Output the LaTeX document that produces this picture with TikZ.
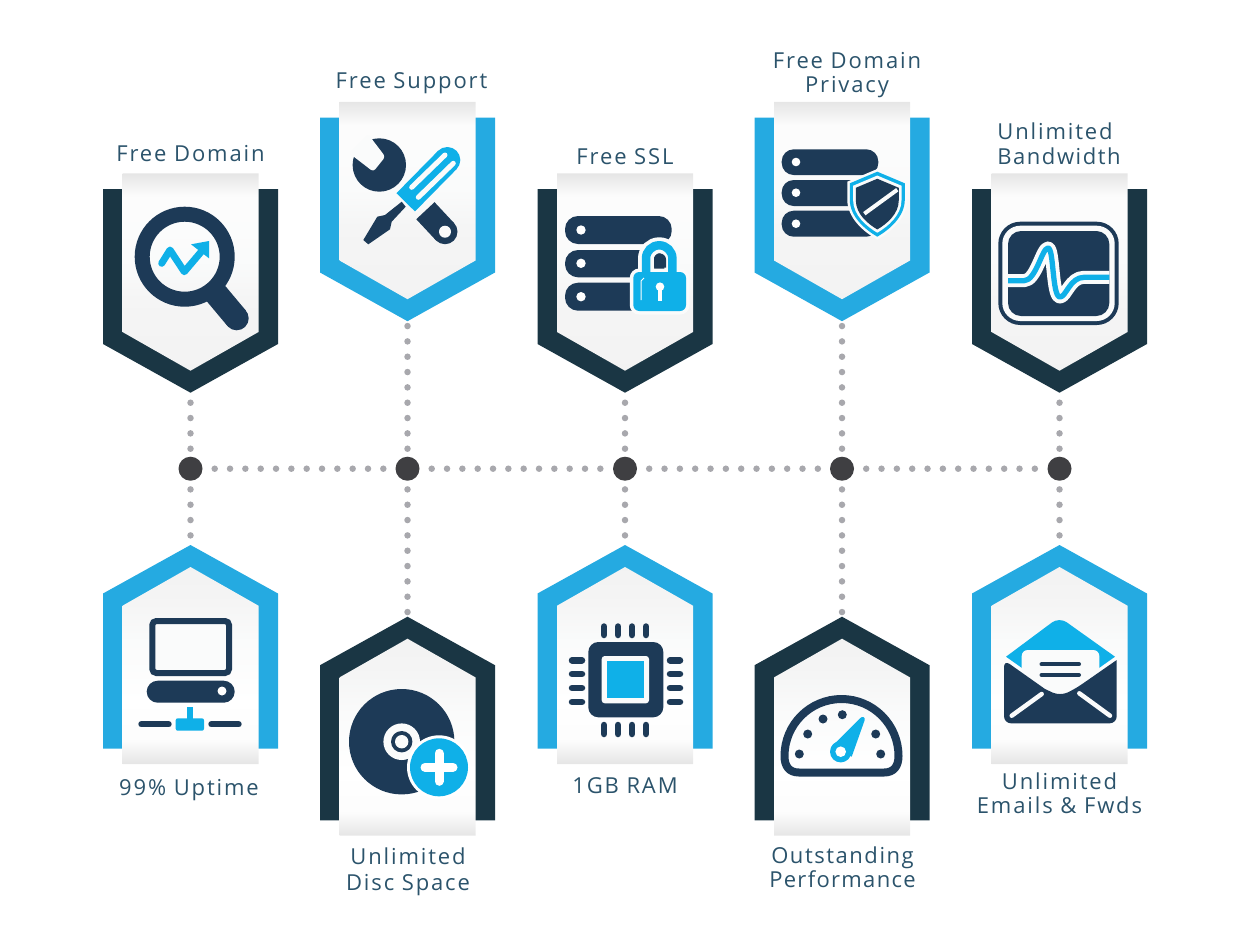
\documentclass[tikz,border=0pt]{standalone}
\usepackage{fontspec}
\setmainfont[LetterSpace=8.5]{Open Sans}
\definecolor{darkband}{HTML}{1A3644}
\definecolor{blueband}{HTML}{25AAE1}
\definecolor{iconnavy}{HTML}{1D3A57}
\definecolor{iconcyan}{HTML}{0FB0E8}
\definecolor{labelblue}{HTML}{2B536B}
\definecolor{dotgray}{HTML}{A8A8AD}
\definecolor{hubgray}{HTML}{3F3F42}
\definecolor{paperwhite}{HTML}{FAFBFB}
\pgfdeclareverticalshading{ribbontop}{100bp}{color(0bp)=(black!5); color(25bp)=(black!5); color(43bp)=(black!4); color(53bp)=(paperwhite); color(69bp)=(white!99!black); color(75bp)=(black!10); color(100bp)=(black!10)}
\pgfdeclareverticalshading{ribbonlow}{100bp}{color(0bp)=(black!10); color(25bp)=(black!10); color(31bp)=(white!99!black); color(41bp)=(white); color(56bp)=(paperwhite); color(66bp)=(black!4); color(75bp)=(black!5); color(100bp)=(black!5)}
\tikzset{
  hubdot/.style={circle,fill=hubgray,minimum size=24pt,inner sep=0pt},
  dotline/.style={dotgray,line width=6.5pt,line cap=round,dash pattern=on 0pt off 15.33pt},
  bannertext/.style={text=labelblue,align=center,inner sep=0pt,font=\fontsize{22}{24.5}\selectfont},
  roundline/.style={line cap=round,line width=#1},
}
% banner hanging down: x, y offset, band colour, name of the tip
\newcommand{\bannerdown}[4]{%
  \begin{scope}[shift={(#1,#2)}]
    \fill[#3] (-87.5,189) -- (87.5,189) -- (87.5,344) -- (0,392.7) -- (-87.5,344) -- cycle;
    \path[shading=ribbontop] (-68,173.3) -- (68,173.3) -- (68,332) -- (0,370.7) -- (-68,332) -- cycle;
    \coordinate (#4) at (0,392.7);
  \end{scope}}
% banner pointing up
\newcommand{\bannerup}[4]{%
  \begin{scope}[shift={(#1,#2)}]
    \fill[#3] (-87.5,593.5) -- (0,545) -- (87.5,593.5) -- (87.5,748.7) -- (-87.5,748.7) -- cycle;
    \path[shading=ribbonlow] (-68,605.7) -- (0,567) -- (68,605.7) -- (68,764) -- (-68,764) -- cycle;
    \coordinate (#4) at (0,545);
  \end{scope}}
\newcommand{\shieldoutline}{(0,-32) -- (27.5,-20.4) -- (27.5,-4) .. controls (27.5,13) and (12,26) .. (0,33) .. controls (-12,26) and (-27.5,13) .. (-27.5,-4) -- (-27.5,-20.4) -- cycle}
\begin{document}
\begin{tikzpicture}[x=1pt,y=-1pt]
    \useasboundingbox (0,0) rectangle (1250,938);

    % Banners
    \bannerdown{190.5}{0}{darkband}{tipa}
    \bannerdown{407.5}{-71.5}{blueband}{tipb}
    \bannerdown{625}{0}{darkband}{tipc}
    \bannerdown{842}{-71.5}{blueband}{tipd}
    \bannerdown{1059.5}{0}{darkband}{tipe}
    \bannerup{190.5}{0}{blueband}{lowa}
    \bannerup{407.5}{71.7}{darkband}{lowb}
    \bannerup{625}{0}{blueband}{lowc}
    \bannerup{842}{71.7}{darkband}{lowd}
    \bannerup{1059.5}{0}{blueband}{lowe}

    % Hubs
    \node[hubdot] (huba) at (190.5,468.7) {};
    \node[hubdot] (hubb) at (407.5,468.7) {};
    \node[hubdot] (hubc) at (625,468.7) {};
    \node[hubdot] (hubd) at (842,468.7) {};
    \node[hubdot] (hube) at (1059.5,468.7) {};

    % Dotted connectors
    \draw[dotline,shorten <=12pt] (huba) -- (hubb);
    \draw[dotline,shorten <=12pt] (hubb) -- (hubc);
    \draw[dotline,shorten <=12pt] (hubc) -- (hubd);
    \draw[dotline,shorten <=12pt] (hubd) -- (hube);
    \draw[dotline,shorten <=7.8pt] (huba) -- (tipa);
    \draw[dotline,shorten <=7.8pt] (hubb) -- (tipb);
    \draw[dotline,shorten <=7.8pt] (hubc) -- (tipc);
    \draw[dotline,shorten <=7.8pt] (hubd) -- (tipd);
    \draw[dotline,shorten <=7.8pt] (hube) -- (tipe);
    \draw[dotline,shorten <=8.5pt] (huba) -- (lowa);
    \draw[dotline,shorten <=8.5pt] (hubb) -- (lowb);
    \draw[dotline,shorten <=8.5pt] (hubc) -- (lowc);
    \draw[dotline,shorten <=8.5pt] (hubd) -- (lowd);
    \draw[dotline,shorten <=8.5pt] (hube) -- (lowe);

    % Labels
    \node[bannertext] (labdomain) at (190.5,154) {Free Domain};
    \node[bannertext] (labsupport) at (411.5,83) {Free Support};
    \node[bannertext] (labssl) at (625,157) {Free SSL};
    \node[bannertext] (labprivacy) at (847,75) {Free Domain\\Privacy};
    \node[bannertext,align=left] (labband) at (1059,143.5) {Unlimited\\{\addfontfeature{LetterSpace=7}Bandwidth}};
    \node[bannertext] (labuptime) at (189,790) {99\% Uptime};
    \node[bannertext] (labdisc) at (408,871.5) {Unlimited\\[1.5pt]Disc Space};
    \node[bannertext] (labram) at (625,786) {1GB RAM};
    \node[bannertext] (labperf) at (842.5,867) {{\addfontfeature{LetterSpace=7}Outstanding}\\{\addfontfeature{LetterSpace=6}Performance}};
    \node[bannertext] (labmail) at (1059.5,793) {Unlimited\\Emails \& Fwds};

    % Magnifier
    \draw[iconnavy,line width=15pt] (184.7,256.7) circle[radius=42.5];
    \draw[iconnavy,line width=24pt] (215.5,293) -- (236.7,318.3);
    \fill[iconnavy] (236.7,318.3) circle[radius=12];
    \draw[iconcyan,roundline=7pt,line join=round] (161.7,263.3) -- (170,250) -- (184.3,271.7) -- (201,252);
    \fill[iconcyan] (209,241) -- (191,244.3) -- (209,258.3) -- cycle;

    % Wrench and screwdriver
    \fill[iconnavy] (379.3,165) circle[radius=26.7];
    \fill[paperwhite,rounded corners=3pt] (368,134) -- (385.3,156.7) -- (373.3,171.7) -- (349,153) -- cycle;
    \draw[iconnavy,line width=25pt] (425.4,210.7) -- (445,231.7);
    \fill[iconnavy] (445,231.7) circle[radius=12.5];
    \fill[paperwhite] (445,231.7) circle[radius=6];
    \fill[iconnavy] (401.7,201.7) -- (405.7,206.7) -- (391.7,221.7) -- (390,229.3) -- (368.3,244.3) -- (363.3,240) -- (377.3,216.7) -- (385,215) -- cycle;
    \draw[paperwhite,line width=30pt] (405.7,202.3) -- (409,199);
    \draw[iconcyan,line width=26pt] (405.7,202.3) -- (447.3,160);
    \fill[iconcyan] (447.3,160) circle[radius=13];
    \draw[paperwhite,roundline=5pt] (411.7,187.3) -- (445,155);
    \draw[paperwhite,roundline=5pt] (418.3,197.3) -- (453.3,163.3);

    % Servers with lock
    \fill[iconnavy,rounded corners=13pt] (565,216) rectangle (671.7,244);
    \fill[iconnavy,rounded corners=13pt] (565,250) rectangle (671.7,277.3);
    \fill[iconnavy,rounded corners=13pt] (565,282.7) rectangle (671.7,310.7);
    \fill[white] (581,230) circle[radius=4.7] (581,263.3) circle[radius=4.7] (581,296.7) circle[radius=4.7];
    \draw[paperwhite,line width=16pt] (646,272) -- (646,258.5) arc[start angle=180,end angle=360,radius=13.2] -- (672.4,272);
    \draw[paperwhite,line width=7pt,rounded corners=6pt,fill=paperwhite] (633.3,272) rectangle (686,311);
    \fill[iconnavy] (654,267.5) -- (654,259.5) arc[start angle=180,end angle=360,radius=6] -- (666,267.5) -- cycle;
    \draw[iconcyan,line width=8.5pt] (646,274) -- (646,258.5) arc[start angle=180,end angle=360,radius=13.2] -- (672.4,274);
    \fill[iconcyan,rounded corners=6pt] (633.3,272) rectangle (686,311);
    \fill[white] (660,286.7) circle[radius=4.3];
    \draw[white,line width=4.5pt] (660,286.7) -- (660,301);
    \draw[white,line width=1pt] (641,300) -- (641,281) -- (644,278);

    % Servers with shield
    \fill[iconnavy,rounded corners=12pt] (781.7,149.3) rectangle (878.3,175);
    \fill[iconnavy,rounded corners=12pt] (781.7,180) rectangle (878.3,206);
    \fill[iconnavy,rounded corners=12pt] (781.7,210.7) rectangle (878.3,236.7);
    \fill[white] (796,162) circle[radius=4.3] (796,192.7) circle[radius=4.3] (796,223.7) circle[radius=4.3];
    \begin{scope}[shift={(877.3,203.7)}]
      \draw[paperwhite,line width=5pt,fill=iconcyan] \shieldoutline;
      \fill[iconcyan] \shieldoutline;
      \fill[paperwhite,scale=0.88] \shieldoutline;
      \fill[iconnavy,scale=0.78] \shieldoutline;
      \draw[paperwhite,line width=4pt] (-13,10) -- (20,-14);
    \end{scope}

    % Signal screen
    \fill[iconnavy,rounded corners=22pt] (998.3,221.7) rectangle (1118.7,325);
    \fill[paperwhite,rounded corners=18pt] (1002.3,225.7) rectangle (1114.7,321);
    \fill[iconnavy,rounded corners=13pt] (1008,231) rectangle (1109.3,316);
    \draw[paperwhite,line width=13pt,line join=round] (1008,280.7) -- (1024,280.7) .. controls (1036,280.7) and (1042,248) .. (1048,248) .. controls (1054,248) and (1052,297) .. (1060,297) .. controls (1066,297) and (1070,277.3) .. (1084,277.3) -- (1109.3,277.3);
    \draw[iconcyan,line width=5.3pt,line join=round] (1008,280.7) -- (1024,280.7) .. controls (1036,280.7) and (1042,248) .. (1048,248) .. controls (1054,248) and (1052,297) .. (1060,297) .. controls (1066,297) and (1070,277.3) .. (1084,277.3) -- (1109.3,277.3);

    % Computer
    \draw[iconnavy,line width=6pt,rounded corners=4pt,fill=paperwhite] (152.3,621) rectangle (229,673);
    \fill[iconnavy,rounded corners=11pt] (146.7,680.7) rectangle (234.7,702.7);
    \fill[white] (222,691) circle[radius=4.5];
    \fill[iconcyan] (187,706.7) rectangle (192.7,720);
    \fill[iconcyan,rounded corners=2pt] (175.7,718.3) rectangle (204,730.7);
    \draw[iconnavy,roundline=6pt] (141.3,724.3) -- (168.7,724.3);
    \draw[iconnavy,roundline=6pt] (211.3,724.3) -- (238.7,724.3);

    % Disc
    \fill[iconnavy] (401.7,741.7) circle[radius=52.7];
    \fill[paperwhite] (401.7,741.7) circle[radius=18.3];
    \fill[iconnavy] (401.7,741.7) circle[radius=10.7];
    \fill[paperwhite] (401.7,741.7) circle[radius=6.7];
    \fill[white] (439,767.3) circle[radius=32];
    \fill[iconcyan] (439,767.3) circle[radius=29];
    \draw[white,roundline=9pt] (425,767.3) -- (453,767.3);
    \draw[white,roundline=9pt] (439,753.3) -- (439,781.3);

    % Chip
    \fill[iconnavy,rounded corners=10pt] (588.3,642) rectangle (663.3,717.3);
    \fill[paperwhite,rounded corners=3pt] (601.7,656) rectangle (649,703.3);
    \fill[iconcyan] (606.7,661) rectangle (643.7,698.3);
    \draw[iconnavy,roundline=6.5pt] (604,626.5) -- (604,635) (618,626.5) -- (618,635) (632,626.5) -- (632,635) (646,626.5) -- (646,635);
    \draw[iconnavy,roundline=6.5pt] (604,725) -- (604,734) (618,725) -- (618,734) (632,725) -- (632,734) (646,725) -- (646,734);
    \draw[iconnavy,roundline=6.5pt] (572,660.3) -- (582,660.3) (572,674) -- (582,674) (572,688) -- (582,688) (572,702) -- (582,702);
    \draw[iconnavy,roundline=6.5pt] (670,660.3) -- (680,660.3) (670,674) -- (680,674) (670,688) -- (680,688) (670,702) -- (680,702);

    % Gauge
    \draw[iconnavy,line width=8pt] (784.5,756) arc[start angle=180,end angle=360,radius=57] .. controls (898.5,766) and (894,772.5) .. (884,772.5) -- (799,772.5) .. controls (789,772.5) and (784.5,766) .. (784.5,756) -- cycle;
    \fill[iconnavy] (799.3,754) circle[radius=4.5] (807.7,734) circle[radius=4.5] (823,719) circle[radius=4.5] (842.3,714.7) circle[radius=4.5] (875.7,734) circle[radius=4.5] (880.7,754) circle[radius=4.5];
    \fill[iconcyan,line join=round] (831.7,746.7) -- (860,718.3) .. controls (862,716) and (865.5,717) .. (864.7,720) -- (851.7,756.7) -- cycle;
    \fill[iconcyan] (840.7,751.7) circle[radius=10.7];
    \fill[white] (840.7,751.7) circle[radius=5.3];

    % Envelope
    \fill[iconcyan] (1006,656.7) [rounded corners=9pt] -- (1059.3,617) [sharp corners] -- (1115,656.7) -- (1099,668) -- (1022,668) -- cycle;
    \fill[paperwhite,rounded corners=6pt] (1021.7,650) rectangle (1099.3,700);
    \draw[iconnavy,roundline=4pt] (1041.5,664.3) -- (1079,664.3);
    \draw[iconnavy,roundline=4pt] (1041.5,675) -- (1079,675);
    \fill[iconnavy,rounded corners=7pt] (1004,660) [sharp corners] -- (1045,689) [rounded corners=8pt] -- (1060,696) -- (1075,689) [sharp corners] -- (1116.7,660) [rounded corners=7pt] -- (1116.7,723.3) -- (1004,723.3) -- cycle;
    \draw[paperwhite,roundline=4.5pt] (1011.7,715.7) -- (1041.7,694);
    \draw[paperwhite,roundline=4.5pt] (1110,715.7) -- (1079.3,693.3);
\end{tikzpicture}
\end{document}
